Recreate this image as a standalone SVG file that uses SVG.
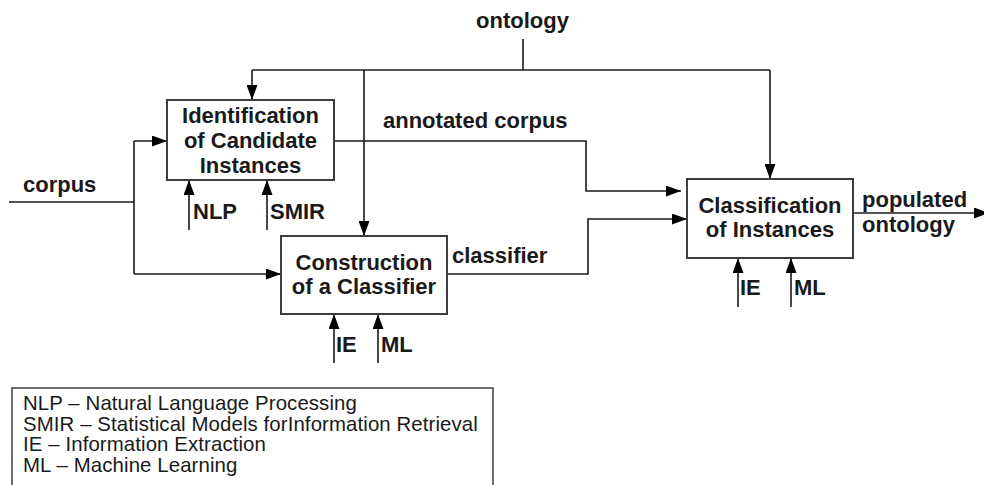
<svg xmlns="http://www.w3.org/2000/svg" width="984" height="485" viewBox="0 0 984 485">
  <style>
    .box { fill: #ffffff; stroke: #3c3c3c; stroke-width: 2; }
    .wire { fill: none; stroke: #1a1a1a; stroke-width: 1.6; }
    .arrow { marker-end: url(#head); }
    .node-text { font-family: "Liberation Sans", Arial, sans-serif; font-weight: bold; font-size: 22px; fill: #1a1a1a; text-anchor: middle; }
    .label { font-family: "Liberation Sans", Arial, sans-serif; font-weight: bold; font-size: 22px; fill: #1a1a1a; }
    .legend-text { font-family: "Liberation Sans", Arial, sans-serif; font-size: 20.4px; letter-spacing: 0.1px; fill: #1a1a1a; }
    .legend-box { fill: #ffffff; stroke: #4a4a4a; stroke-width: 1.6; }
  </style>
  <defs>
    <marker id="head" markerUnits="userSpaceOnUse" markerWidth="15" markerHeight="11" refX="15" refY="5.5" orient="auto">
      <path d="M0,0 L15,5.5 L0,11 z" fill="#000000"/>
    </marker>
  </defs>

  <rect width="984" height="485" fill="#ffffff"/>

  <!-- connectors -->
  <g id="connectors">
    <!-- ontology feed -->
    <path class="wire" d="M523,39 V70"/>
    <path class="wire" d="M252,70 H770"/>
    <path class="wire arrow" d="M252,70 V100"/>
    <path class="wire arrow" d="M364,70 V236"/>
    <path class="wire arrow" d="M770,70 V179"/>
    <!-- corpus -->
    <path class="wire" d="M9,202 H134"/>
    <path class="wire" d="M134,141 V274"/>
    <path class="wire arrow" d="M134,141 H167"/>
    <path class="wire arrow" d="M134,274 H281"/>
    <!-- annotated corpus -->
    <path class="wire arrow" d="M334,141 H586 V191 H681"/>
    <!-- classifier -->
    <path class="wire arrow" d="M447,274 H588 V219 H687"/>
    <!-- populated ontology -->
    <path class="wire arrow" d="M853,213 H989"/>
    <!-- mechanisms -->
    <path class="wire arrow" d="M189,230 V180"/>
    <path class="wire arrow" d="M267,230 V180"/>
    <path class="wire arrow" d="M334,363 V314"/>
    <path class="wire arrow" d="M378,363 V314"/>
    <path class="wire arrow" d="M738,307 V258"/>
    <path class="wire arrow" d="M791,307 V258"/>

    <!-- connector labels -->
    <text class="label" x="476" y="28">ontology</text>
    <text class="label" x="383" y="128">annotated corpus</text>
    <text class="label" x="23" y="192">corpus</text>
    <text class="label" x="452" y="263">classifier</text>
    <text class="label" x="862" y="207">populated</text>
    <text class="label" x="862" y="232">ontology</text>
    <text class="label" x="193" y="219">NLP</text>
    <text class="label" x="270" y="219">SMIR</text>
    <text class="label" x="336" y="352">IE</text>
    <text class="label" x="381" y="352">ML</text>
    <text class="label" x="740" y="295">IE</text>
    <text class="label" x="794" y="295">ML</text>
  </g>

  <!-- nodes -->
  <g id="identification">
    <rect class="box" x="167" y="100" width="167" height="80"/>
    <text class="node-text" x="250.5" y="123">Identification</text>
    <text class="node-text" x="250.5" y="148">of Candidate</text>
    <text class="node-text" x="250.5" y="173">Instances</text>
  </g>

  <g id="construction">
    <rect class="box" x="281" y="236" width="166" height="78"/>
    <text class="node-text" x="364" y="270">Construction</text>
    <text class="node-text" x="364" y="294">of a Classifier</text>
  </g>

  <g id="classification">
    <rect class="box" x="687" y="179" width="166" height="79"/>
    <text class="node-text" x="770" y="213">Classification</text>
    <text class="node-text" x="770" y="237">of Instances</text>
  </g>

  <g id="legend">
    <rect class="legend-box" x="12" y="388" width="481" height="110"/>
    <text class="legend-text" x="23" y="410">NLP – Natural Language Processing</text>
    <text class="legend-text" x="23" y="430.7">SMIR – Statistical Models forInformation Retrieval</text>
    <text class="legend-text" x="23" y="451.3">IE – Information Extraction</text>
    <text class="legend-text" x="23" y="472">ML – Machine Learning</text>
  </g>
</svg>
